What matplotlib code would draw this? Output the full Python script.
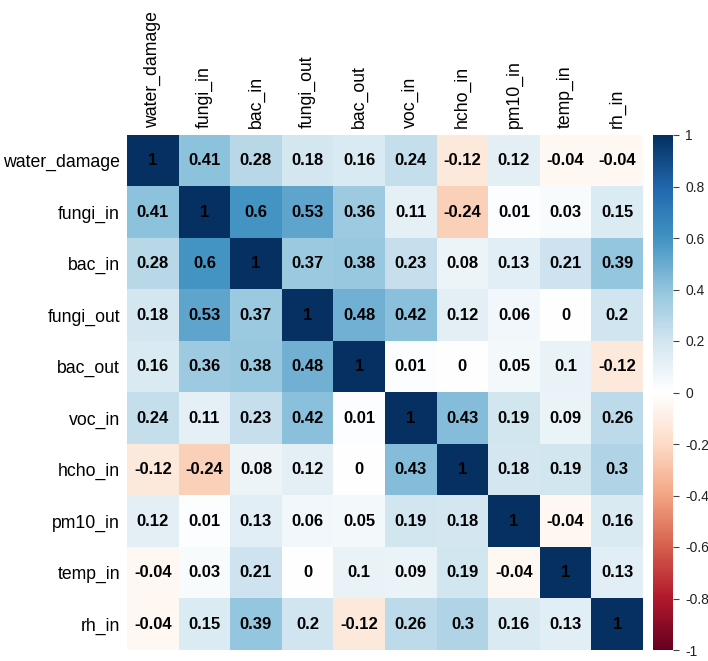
import numpy as np
import matplotlib.pyplot as plt
from matplotlib.colors import LinearSegmentedColormap

plt.rcParams['font.family'] = ['Liberation Sans', 'DejaVu Sans']

labels = ['water_damage', 'fungi_in', 'bac_in', 'fungi_out', 'bac_out',
          'voc_in', 'hcho_in', 'pm10_in', 'temp_in', 'rh_in']

corr_rows = [
    [1, 0.41, 0.28, 0.18, 0.16, 0.24, -0.12, 0.12, -0.04, -0.04],
    [0.41, 1, 0.6, 0.53, 0.36, 0.11, -0.24, 0.01, 0.03, 0.15],
    [0.28, 0.6, 1, 0.37, 0.38, 0.23, 0.08, 0.13, 0.21, 0.39],
    [0.18, 0.53, 0.37, 1, 0.48, 0.42, 0.12, 0.06, 0, 0.2],
    [0.16, 0.36, 0.38, 0.48, 1, 0.01, 0, 0.05, 0.1, -0.12],
    [0.24, 0.11, 0.23, 0.42, 0.01, 1, 0.43, 0.19, 0.09, 0.26],
    [-0.12, -0.24, 0.08, 0.12, 0, 0.43, 1, 0.18, 0.19, 0.3],
    [0.12, 0.01, 0.13, 0.06, 0.05, 0.19, 0.18, 1, -0.04, 0.16],
    [-0.04, 0.03, 0.21, 0, 0.1, 0.09, 0.19, -0.04, 1, 0.13],
    [-0.04, 0.15, 0.39, 0.2, -0.12, 0.26, 0.3, 0.16, 0.13, 1],
]
corr = np.array(corr_rows)

# corrplot-like RdBu palette
cmap = LinearSegmentedColormap.from_list('rdbu2', [
    "#67001F", "#B2182B", "#D6604D", "#F4A582", "#FDDBC7", "#FFFFFF",
    "#D1E5F0", "#92C5DE", "#4393C3", "#2166AC", "#053061"])

W, H = 708, 661
fig = plt.figure(figsize=(W / 100, H / 100), dpi=100)
ax = fig.add_axes([127 / W, 11 / H, 516 / W, 515 / H])
cax = fig.add_axes([653 / W, 11 / H, 20 / W, 515 / H])

n = len(labels)
im = ax.imshow(corr, cmap=cmap, vmin=-1, vmax=1, aspect='auto',
               extent=(-0.5, n - 0.5, n - 0.5, -0.5))

for i in range(n):
    for j in range(n):
        v = corr[i, j]
        ax.text(j, i, f"{v:g}", ha='center', va='center', fontsize=12,
                fontweight='bold', color='black')

ax.set_xticks(range(n))
ax.set_xticklabels(labels, rotation=90, fontsize=12.7)
ax.set_yticks(range(n))
ax.set_yticklabels(labels, fontsize=12.7)
ax.xaxis.tick_top()
ax.tick_params(length=0, pad=5)
for s in ax.spines.values():
    s.set_visible(False)

cb = fig.colorbar(im, cax=cax, ticks=np.round(np.arange(-1, 1.01, 0.2), 1))
cb.ax.set_yticklabels(['-1', '-0.8', '-0.6', '-0.4', '-0.2', '0',
                       '0.2', '0.4', '0.6', '0.8', '1'])
cb.outline.set_visible(False)
cb.ax.tick_params(labelsize=10, length=4, width=0.8, color='#444444',
                  labelcolor='#222222', pad=5)

fig.savefig('out.png', dpi=100)
